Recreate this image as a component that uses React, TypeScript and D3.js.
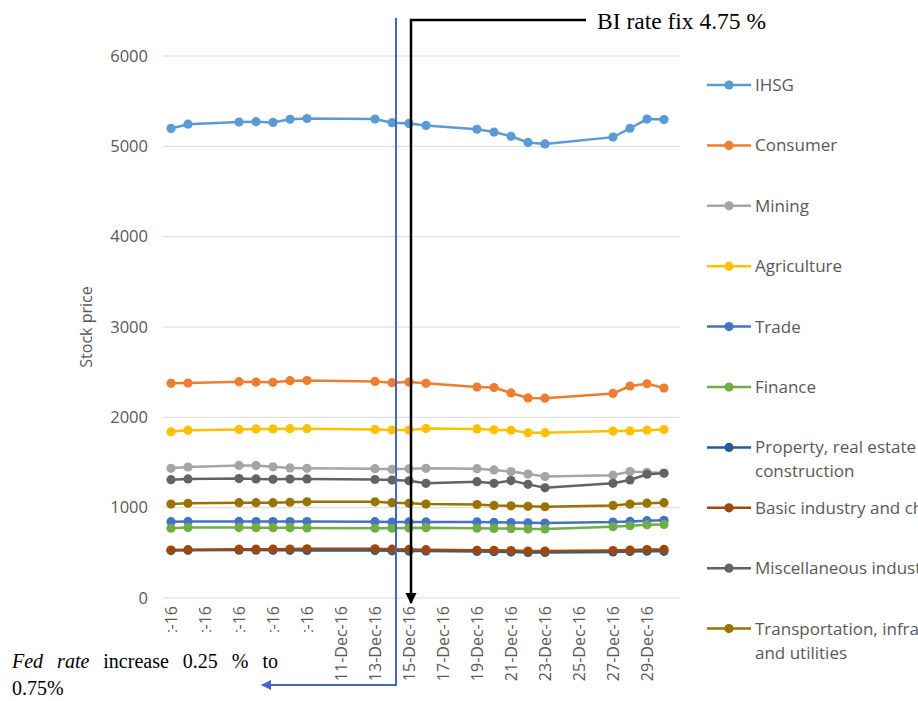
import * as d3 from "d3";

// trading days, Dec 2016
const days = [
  "2016-12-01", "2016-12-02", "2016-12-05", "2016-12-06", "2016-12-07",
  "2016-12-08", "2016-12-09", "2016-12-13", "2016-12-14", "2016-12-15",
  "2016-12-16", "2016-12-19", "2016-12-20", "2016-12-21", "2016-12-22",
  "2016-12-23", "2016-12-27", "2016-12-28", "2016-12-29", "2016-12-30",
];

const ihsg = [5198, 5245, 5269, 5273, 5265, 5300, 5308, 5302, 5262, 5254, 5231, 5189, 5158, 5111, 5043, 5027, 5102, 5200, 5302, 5296];
const consumer = [2377, 2380, 2395, 2390, 2388, 2406, 2408, 2398, 2384, 2390, 2377, 2335, 2330, 2270, 2215, 2212, 2265, 2347, 2372, 2324];
const mining = [1436, 1450, 1468, 1466, 1452, 1440, 1436, 1432, 1425, 1430, 1436, 1432, 1418, 1400, 1372, 1345, 1360, 1400, 1392, 1384];
const agriculture = [1840, 1858, 1866, 1872, 1872, 1874, 1874, 1866, 1860, 1860, 1876, 1872, 1862, 1856, 1828, 1830, 1848, 1850, 1858, 1864];
const trade = [845, 848, 848, 846, 846, 846, 846, 845, 840, 842, 842, 842, 838, 836, 832, 830, 840, 848, 856, 860];
const finance = [772, 780, 780, 778, 778, 778, 775, 772, 772, 775, 778, 772, 770, 768, 765, 765, 790, 800, 810, 815];
const property = [525, 528, 530, 530, 528, 528, 526, 525, 522, 520, 520, 515, 512, 508, 505, 505, 510, 515, 518, 517];
const basicInd = [531, 535, 540, 540, 540, 542, 545, 545, 540, 538, 535, 528, 528, 525, 520, 520, 525, 530, 536, 538];
const miscInd = [1310, 1318, 1322, 1318, 1314, 1316, 1318, 1312, 1305, 1298, 1270, 1288, 1270, 1300, 1258, 1220, 1270, 1306, 1370, 1381];
const transport = [1040, 1048, 1055, 1055, 1055, 1060, 1065, 1065, 1055, 1048, 1040, 1035, 1025, 1020, 1015, 1010, 1025, 1040, 1050, 1055];

const seriesNames = [
  ["IHSG"],
  ["Consumer"],
  ["Mining"],
  ["Agriculture"],
  ["Trade"],
  ["Finance"],
  ["Property, real estate and building", "construction"],
  ["Basic industry and chemicals"],
  ["Miscellaneous industry"],
  ["Transportation, infrastructure", "and utilities"],
];
const seriesValues = [ihsg, consumer, mining, agriculture, trade, finance, property, basicInd, miscInd, transport];
const colors = ["#5B9BD5", "#ED7D31", "#A5A5A5", "#FFC000", "#4472C4", "#70AD47", "#255E91", "#9E480E", "#636363", "#997300"];

const yTicks = [0, 1000, 2000, 3000, 4000, 5000, 6000];

const W = 918;
const H = 701;
const sans = "'Open Sans', 'Noto Sans', sans-serif";
const serif = "'Liberation Serif', 'DejaVu Serif', serif";
const grey = "#595959";

export default function App() {
  const parse = d3.timeParse("%Y-%m-%d");
  const dates = days.map((d) => parse(d) as Date);
  const fmt = d3.timeFormat("%-d-%b-%y");

  const x = d3
    .scaleTime()
    .domain([new Date(2016, 10, 30, 12), new Date(2016, 11, 31)])
    .range([162.5, 681]);
  const y = d3.scaleLinear().domain([0, 6000]).range([598, 56]);

  const xTicks = d3.timeDay.range(new Date(2016, 11, 1), new Date(2016, 11, 30), 2);

  const line = d3
    .line<number>()
    .x((_, i) => x(dates[i]))
    .y((v) => y(v));

  const [left, right] = [163, 680];
  const blueX = 396;
  const blackX = 411;
  const legendY0 = 85;
  const legendStep = 60.4;

  return (
    <div style={{ position: "fixed", left: 0, top: 0, width: W, height: H, background: "#fff" }}>
      <svg width={W} height={H} style={{ display: "block" }}>
        <defs>
          <marker id="arrBlue" viewBox="0 0 10 10" refX="9" refY="5" markerWidth="5" markerHeight="5" orient="auto">
            <path d="M0,0 L10,5 L0,10 z" fill="#4466C8" />
          </marker>
          <marker id="arrBlack" viewBox="0 0 10 10" refX="9" refY="5" markerWidth="4.5" markerHeight="4.5" orient="auto">
            <path d="M0,0 L10,5 L0,10 z" fill="#000" />
          </marker>
        </defs>

        {/* gridlines */}
        {yTicks.map((t) => (
          <line key={t} x1={left} x2={right} y1={y(t)} y2={y(t)} stroke="#d9d9d9" strokeWidth={1} />
        ))}
        {yTicks.map((t) => (
          <text key={"l" + t} x={148} y={y(t)} dy="0.35em" textAnchor="end" fontFamily={sans} fontSize={16.5} fill={grey}>
            {t}
          </text>
        ))}
        <text
          transform={`translate(92,${y(3000)}) rotate(-90)`}
          textAnchor="middle"
          fontFamily={sans}
          fontSize={16}
          fill={grey}
        >
          Stock price
        </text>

        {/* x labels */}
        {xTicks.map((d) => (
          <text
            key={+d}
            transform={`translate(${x(d)},606) rotate(-90)`}
            textAnchor="end"
            dy="0.35em"
            fontFamily={sans}
            fontSize={16}
            fill={grey}
          >
            {fmt(d)}
          </text>
        ))}

        {/* series */}
        {seriesValues.map((vals, s) => (
          <g key={s}>
            <path d={line(vals) || ""} fill="none" stroke={colors[s]} strokeWidth={2.5} />
            {vals.map((v, i) => (
              <circle key={i} cx={x(dates[i])} cy={y(v)} r={4.6} fill={colors[s]} />
            ))}
          </g>
        ))}

        {/* legend */}
        {seriesNames.map((lines, s) => {
          const ly = legendY0 + s * legendStep;
          return (
            <g key={s}>
              <line x1={707} x2={751} y1={ly} y2={ly} stroke={colors[s]} strokeWidth={2.5} />
              <circle cx={729} cy={ly} r={4.6} fill={colors[s]} />
              {lines.map((t, k) => (
                <text key={k} x={755} y={ly + k * 24} dy="0.35em" fontFamily={sans} fontSize={17} fill={grey}>
                  {t}
                </text>
              ))}
            </g>
          );
        })}

        {/* annotation: Fed rate */}
        <rect x={0} y={632} width={334} height={H - 632} fill="#fff" />
        <path
          d={`M${blueX},18 L${blueX},685 L262,685`}
          fill="none"
          stroke="#4466C8"
          strokeWidth={2}
          markerEnd="url(#arrBlue)"
        />
        <text x={12} y={668} fontFamily={serif} fontSize={20} fill="#000" style={{ wordSpacing: "9px" }}>
          <tspan fontStyle="italic">Fed rate</tspan> increase 0.25 % to
        </text>
        <text x={12} y={695} fontFamily={serif} fontSize={20} fill="#000">
          0.75%
        </text>

        {/* annotation: BI rate */}
        <path
          d={`M586,20 L${blackX},20 L${blackX},603`}
          fill="none"
          stroke="#000"
          strokeWidth={2.5}
          markerEnd="url(#arrBlack)"
        />
        <text x={597} y={29} fontFamily={serif} fontSize={23.5} fill="#000">
          BI rate fix 4.75 %
        </text>
      </svg>
    </div>
  );
}
